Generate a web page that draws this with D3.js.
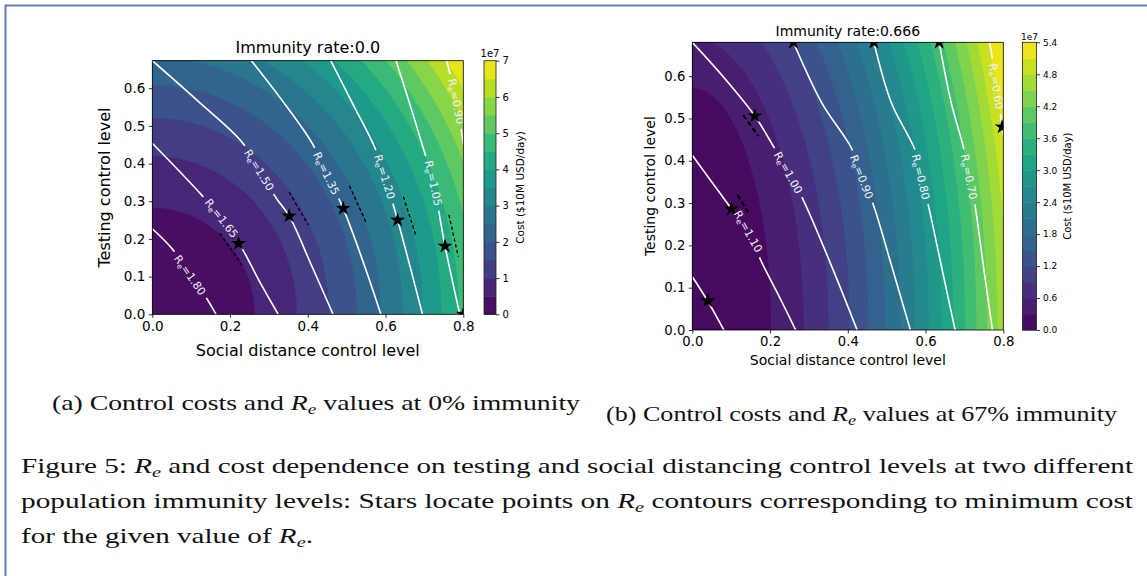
<!DOCTYPE html>
<html><head><meta charset="utf-8">
<script src="https://cdn.jsdelivr.net/npm/d3@7"></script>
<style>
body{margin:0;background:#fff}
svg{display:block}
text{font-family:"DejaVu Sans",sans-serif}
text.cap{font-family:"Liberation Serif",serif}
</style>
</head><body>
<svg id="c" width="1147" height="576"></svg>
<script>
// ---------------- data ----------------
const xTicks = [0, 0.2, 0.4, 0.6, 0.8];
const yTicks = [0, 0.1, 0.2, 0.3, 0.4, 0.5, 0.6];

// Left panel (immunity 0.0)
const leftTitle = "Immunity rate:0.0";
const leftCbarTicks = [0, 1, 2, 3, 4, 5, 6, 7];
const leftCbarMax = 7;      // x1e7
const leftCbarStep = 0.5;   // x1e7 per band
// cost contour boundaries (levels 0.5 ... 6.5 e7): x-axis and y-axis intercepts
const leftCostXInt = [0.263, 0.372, 0.455, 0.526, 0.588, 0.644, 0.696, 0.744, 0.789, 0.832, 0.872, 0.911, 0.948];
const leftCostYInt = [0.283, 0.420, 0.521, 0.608, 0.682, 0.749, 0.810, 0.866, 0.920, 0.973, 1.020, 1.070, 1.115];
const leftReLevels = ["1.80", "1.65", "1.50", "1.35", "1.20", "1.05", "0.90"];
const leftReLines = [
  [[0,0.227],[0.05,0.175],[0.097,0.104],[0.135,0.05],[0.164,0]],
  [[0,0.454],[0.123,0.321],[0.178,0.255],[0.223,0.189],[0.276,0.087],[0.324,0]],
  [[0,0.673],[0.114,0.569],[0.23,0.458],[0.275,0.383],[0.319,0.308],[0.352,0.261],[0.409,0.131],[0.465,0]],
  [[0.255,0.673],[0.333,0.569],[0.41,0.456],[0.448,0.374],[0.491,0.281],[0.542,0.14],[0.588,0]],
  [[0.459,0.673],[0.517,0.556],[0.573,0.441],[0.598,0.365],[0.631,0.25],[0.662,0.131],[0.695,0]],
  [[0.627,0.673],[0.663,0.556],[0.697,0.441],[0.723,0.348],[0.753,0.181],[0.791,0]],
  [[0.757,0.673],[0.768,0.63],[0.782,0.565],[0.795,0.49],[0.8,0.45]]
];
const leftReLabelIdx = [2, 2, 3, 3, 3, 3, 2];
const leftStars = [[0.222,0.188],[0.352,0.261],[0.491,0.281],[0.631,0.25],[0.753,0.181],[0.8,0]];
const leftMinorMarks = [[0.099,0.097]];
const leftDashes = [
  [[0.174,0.215],[0.23,0.131]],
  [[0.352,0.324],[0.401,0.237]],
  [[0.507,0.341],[0.55,0.244]],
  [[0.646,0.312],[0.678,0.209]],
  [[0.763,0.264],[0.787,0.153]]
];

// Right panel (immunity 0.666)
const rightTitle = "Immunity rate:0.666";
const rightCbarTicks = [0, 0.6, 1.2, 1.8, 2.4, 3.0, 3.6, 4.2, 4.8, 5.4];
const rightCbarMax = 5.4;
const rightCbarStep = 0.3;
const rightCostXInt = [0.203, 0.287, 0.351, 0.405, 0.453, 0.496, 0.536, 0.573, 0.608, 0.641, 0.672, 0.702, 0.731, 0.758, 0.785, 0.810, 0.835];
const rightCostYInt = [0.572, 0.689, 0.789, 0.878, 0.958, 1.032, 1.101, 1.167, 1.228, 1.287, 1.343, 1.397, 1.449, 1.499, 1.547, 1.594, 1.640];
const rightReLevels = ["1.20", "1.10", "1.00", "0.90", "0.80", "0.70", "0.60"];
const rightReLines = [
  [[0,0.126],[0.04,0.068],[0.081,0]],
  [[0,0.413],[0.05,0.35],[0.101,0.286],[0.144,0.233],[0.178,0.161],[0.222,0.082],[0.266,0]],
  [[0,0.68],[0.084,0.594],[0.161,0.506],[0.208,0.435],[0.247,0.372],[0.284,0.31],[0.357,0.154],[0.424,0]],
  [[0.26,0.68],[0.333,0.537],[0.41,0.429],[0.436,0.362],[0.465,0.298],[0.512,0.154],[0.561,0]],
  [[0.467,0.68],[0.512,0.537],[0.573,0.425],[0.588,0.362],[0.607,0.295],[0.641,0.15],[0.676,0]],
  [[0.635,0.68],[0.666,0.537],[0.697,0.433],[0.712,0.362],[0.727,0.295],[0.749,0.15],[0.772,0]],
  [[0.765,0.68],[0.771,0.647],[0.782,0.576],[0.792,0.512],[0.8,0.46]]
];
const rightReLabelIdx = [-1, 3, 4, 3, 3, 3, 2];
const rightStars = [[0.04,0.069],[0.101,0.286],[0.161,0.506],[0.26,0.68],[0.467,0.68],[0.635,0.68],[0.797,0.48]];
const rightMinorMarks = [];
const rightDashes = [
  [[0.116,0.319],[0.148,0.272]],
  [[0.131,0.508],[0.17,0.458]]
];

// ---------------- drawing ----------------
const W = 1147, H = 576;
const svg = d3.select("#c");
const defs = svg.append("defs");

function drawPanel(P) {
  const x = d3.scaleLinear().domain([0, 0.8]).range([P.x0, P.x1]);
  const y = d3.scaleLinear().domain([0, P.yMax]).range([P.y0, P.y1]);
  defs.append("clipPath").attr("id", P.id + "-clip").append("rect")
    .attr("x", P.x0).attr("y", P.y1).attr("width", P.x1 - P.x0).attr("height", P.y0 - P.y1);
  const nB = Math.round(P.cbarMax / P.cbarStep);
  const col = i => d3.interpolateViridis((i + 0.5) / nB);

  const plot = svg.append("g").attr("clip-path", `url(#${P.id}-clip)`);
  plot.append("rect").attr("x", P.x0).attr("y", P.y1).attr("width", P.x1 - P.x0).attr("height", P.y0 - P.y1)
    .attr("fill", col(nB - 1));
  const idx = d3.range(P.costX.length).reverse();
  plot.selectAll("path.band").data(idx).join("path").attr("class", "band")
    .attr("d", j => {
      const a = P.costX[j], b = P.costY[j];
      return `M${x(0)},${y(0)}L${x(a)},${y(0)}A${x(a) - x(0)},${y(0) - y(b)} 0 0 0 ${x(0)},${y(b)}Z`;
    })
    .attr("fill", j => col(j));

  // Re contour lines with gaps for labels
  const mask = defs.append("mask").attr("id", P.id + "-mask").attr("maskUnits", "userSpaceOnUse")
    .attr("x", 0).attr("y", 0).attr("width", W).attr("height", H);
  mask.append("rect").attr("width", W).attr("height", H).attr("fill", "white");
  const lg = plot.append("g").attr("mask", `url(#${P.id}-mask)`);
  const line = d3.line().x(d => x(d[0])).y(d => y(d[1])).curve(d3.curveCatmullRom.alpha(0.5));
  lg.selectAll("path").data(P.reLines).join("path").attr("d", line)
    .attr("fill", "none").attr("stroke", "white").attr("stroke-width", 1.6);

  // dashed tangents
  plot.selectAll("line.dash").data(P.dashes).join("line").attr("class", "dash")
    .attr("x1", d => x(d[0][0])).attr("y1", d => y(d[0][1]))
    .attr("x2", d => x(d[1][0])).attr("y2", d => y(d[1][1]))
    .attr("stroke", "black").attr("stroke-width", P.dashW).attr("stroke-dasharray", P.dashArr);

  // stars
  const star = d3.symbol().type(d3.symbolStar).size(P.starSize);
  plot.selectAll("path.star").data(P.stars).join("path").attr("class", "star")
    .attr("d", star).attr("transform", d => `translate(${x(d[0])},${y(d[1])})`).attr("fill", "black");
  const star2 = d3.symbol().type(d3.symbolStar).size(14);
  plot.selectAll("path.mstar").data(P.minor).join("path").attr("class", "mstar")
    .attr("d", star2).attr("transform", d => `translate(${x(d[0])},${y(d[1])})`).attr("fill", "#111");

  // labels
  const labG = plot.append("g");
  P.reLines.forEach((pts, k) => {
    const i = P.labelIdx[k];
    if (i < 0) return;
    const p0 = pts[i - 1], p1 = pts[i + 1];
    const ang = Math.atan2(y(p1[1]) - y(p0[1]), x(p1[0]) - x(p0[0])) * 180 / Math.PI;
    const tr = `translate(${x(pts[i][0])},${y(pts[i][1])}) rotate(${ang})`;
    const t = labG.append("text").attr("transform", tr).attr("text-anchor", "middle")
      .attr("font-size", P.labFs).attr("fill", "#f4f0fa").attr("y", P.labFs * 0.36);
    t.append("tspan").text("R");
    t.append("tspan").attr("font-size", P.labFs * 0.7).attr("dy", 2).text("e");
    t.append("tspan").attr("dy", -2).text("=" + P.reLevels[k]);
    const w = t.node().getComputedTextLength();
    mask.append("rect").attr("transform", tr).attr("x", -w / 2 - 5).attr("y", -7)
      .attr("width", w + 10).attr("height", 14).attr("fill", "black");
  });

  // frame
  svg.append("rect").attr("x", P.x0).attr("y", P.y1).attr("width", P.x1 - P.x0).attr("height", P.y0 - P.y1)
    .attr("fill", "none").attr("stroke", "black").attr("stroke-width", 0.8);

  // axes
  const fmt = d3.format(".1f");
  const ax = svg.append("g").attr("transform", `translate(0,${P.y0})`)
    .call(d3.axisBottom(x).tickValues(xTicks).tickFormat(fmt).tickSize(3.5).tickPadding(3.5));
  const ay = svg.append("g").attr("transform", `translate(${P.x0},0)`)
    .call(d3.axisLeft(y).tickValues(yTicks).tickFormat(fmt).tickSize(3.5).tickPadding(3.5));
  [ax, ay].forEach(a => {
    a.select(".domain").remove();
    a.selectAll("text").attr("font-size", P.tickFs).attr("font-family", "DejaVu Sans").attr("fill", "#000");
    a.selectAll("line").attr("stroke", "#000").attr("stroke-width", 0.8);
  });

  // title and axis labels
  const cxm = (P.x0 + P.x1) / 2;
  svg.append("text").attr("x", cxm).attr("y", P.titleY).attr("text-anchor", "middle")
    .attr("font-size", P.labelFs).text(P.title);
  svg.append("text").attr("x", cxm).attr("y", P.xlabY).attr("text-anchor", "middle")
    .attr("font-size", P.labelFs).text("Social distance control level");
  svg.append("text").attr("transform", `translate(${P.ylabX},${(P.y0 + P.y1) / 2}) rotate(-90)`)
    .attr("text-anchor", "middle").attr("font-size", P.labelFs).text("Testing control level");

  // colorbar
  const cy = d3.scaleLinear().domain([0, P.cbarMax]).range([P.y0, P.y1]);
  const cb = svg.append("g");
  cb.selectAll("rect.cbb").data(d3.range(nB)).join("rect").attr("class", "cbb")
    .attr("x", P.cbX).attr("width", P.cbW)
    .attr("y", i => cy((i + 1) * P.cbarStep)).attr("height", i => cy(i * P.cbarStep) - cy((i + 1) * P.cbarStep) + 0.5)
    .attr("fill", i => col(i));
  cb.append("rect").attr("x", P.cbX).attr("y", P.y1).attr("width", P.cbW).attr("height", P.y0 - P.y1)
    .attr("fill", "none").attr("stroke", "#222").attr("stroke-width", 0.8);
  const cax = svg.append("g").attr("transform", `translate(${P.cbX + P.cbW},0)`)
    .call(d3.axisRight(cy).tickValues(P.cbarTicks).tickFormat(P.cbFmt).tickSize(3.5).tickPadding(3));
  cax.select(".domain").remove();
  cax.selectAll("text").attr("font-size", P.cbFs).attr("font-family", "DejaVu Sans").attr("fill", "#000");
  cax.selectAll("line").attr("stroke", "#000").attr("stroke-width", 0.8);
  svg.append("text").attr("x", P.cbX + P.cbW / 2).attr("y", P.offY).attr("text-anchor", "middle")
    .attr("font-size", P.cbFs).text("1e7");
  svg.append("text").attr("transform", `translate(${P.cbLabX},${(P.y0 + P.y1) / 2}) rotate(-90)`)
    .attr("text-anchor", "middle").attr("font-size", P.cbLabFs).text("Cost ($10M USD/day)");
}

drawPanel({
  id: "L", x0: 152.3, x1: 463.3, y0: 314.3, y1: 60.7, yMax: 0.673,
  costX: leftCostXInt, costY: leftCostYInt, cbarMax: leftCbarMax, cbarStep: leftCbarStep,
  cbarTicks: leftCbarTicks, cbFmt: d3.format("d"),
  reLines: leftReLines, reLevels: leftReLevels, labelIdx: leftReLabelIdx,
  stars: leftStars, minor: leftMinorMarks, dashes: leftDashes,
  dashW: 1.3, dashArr: "3.5,2.5", starSize: 70, labFs: 11,
  tickFs: 13.5, labelFs: 16, title: leftTitle, titleY: 53, xlabY: 356, ylabX: 110,
  cbX: 484, cbW: 12, cbFs: 10, offY: 57, cbLabX: 524, cbLabFs: 10.5
});
drawPanel({
  id: "R", x0: 692.3, x1: 1003.3, y0: 330, y1: 42.3, yMax: 0.68,
  costX: rightCostXInt, costY: rightCostYInt, cbarMax: rightCbarMax, cbarStep: rightCbarStep,
  cbarTicks: rightCbarTicks, cbFmt: d3.format(".1f"),
  reLines: rightReLines, reLevels: rightReLevels, labelIdx: rightReLabelIdx,
  stars: rightStars, minor: rightMinorMarks, dashes: rightDashes,
  dashW: 2, dashArr: "5,3", starSize: 70, labFs: 11,
  tickFs: 13.2, labelFs: 14, title: rightTitle, titleY: 36, xlabY: 365, ylabX: 655,
  cbX: 1022.5, cbW: 14, cbFs: 9, offY: 40, cbLabX: 1071, cbLabFs: 10
});

// ---------------- captions ----------------
function reText(sel, parts) {
  let shiftBack = false;
  parts.forEach(p => {
    if (p === "Re") {
      sel.append("tspan").attr("font-style", "italic").text("R");
      sel.append("tspan").attr("font-style", "italic").attr("font-size", "0.7em").attr("dy", 4).text("e");
      shiftBack = true;
    } else {
      const s = sel.append("tspan").text(p);
      if (shiftBack) { s.attr("dy", -4); shiftBack = false; }
    }
  });
}
const captions = [
  {x: 52, y: 410, len: 528, fs: 21, parts: ["(a)  Control costs and ", "Re", " values at 0% immunity"]},
  {x: 606, y: 421, len: 511, fs: 21, parts: ["(b) Control costs and ", "Re", " values at 67% immunity"]},
  {x: 21, y: 473, len: 1112, fs: 22, parts: ["Figure 5: ", "Re", " and cost dependence on testing and social distancing control levels at two different"]},
  {x: 21, y: 508, len: 1112, fs: 22, parts: ["population immunity levels: Stars locate points on ", "Re", " contours corresponding to minimum cost"]},
  {x: 21, y: 543, len: 292, fs: 22, parts: ["for the given value of ", "Re", "."]}
];
captions.forEach(c => {
  const t = svg.append("text").attr("class", "cap").attr("x", c.x).attr("y", c.y)
    .attr("font-size", c.fs).attr("fill", "#111")
    .attr("textLength", c.len).attr("lengthAdjust", "spacingAndGlyphs");
  reText(t, c.parts);
});

// page border
svg.append("path").attr("d", "M5.5,576V5.5H1147").attr("fill", "none")
  .attr("stroke", "#5f83ab").attr("stroke-width", 2);
</script>
</body></html>
